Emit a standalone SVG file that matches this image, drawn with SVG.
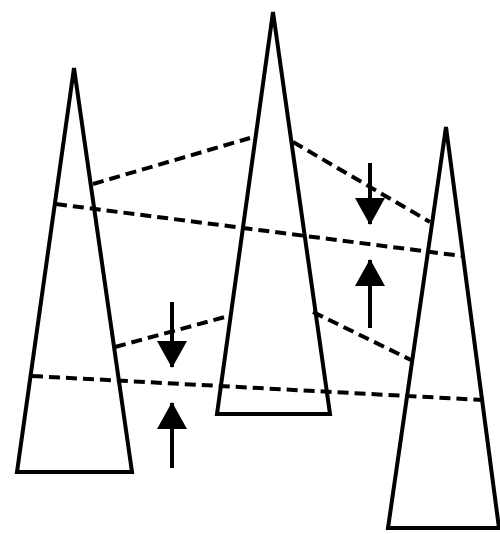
<svg xmlns="http://www.w3.org/2000/svg" width="500" height="534" viewBox="0 0 500 534">
<defs>
<style>
.tri{fill:none;stroke:#000;stroke-width:4;stroke-linejoin:miter}
.dash{fill:none;stroke:#000;stroke-width:4;stroke-dasharray:11 6}
.arr{fill:none;stroke:#000;stroke-width:4}
</style>
<marker id="head" markerUnits="userSpaceOnUse" markerWidth="28" markerHeight="30" refX="26" refY="15" orient="auto" viewBox="0 0 28 30">
<path d="M0,0 L27,15 L0,30 z" fill="#000"/>
</marker>
</defs>
<rect width="500" height="534" fill="#fff"/>
<g id="tower-left"><polygon class="tri" points="74,68 17,472 132,472"/></g>
<g id="tower-middle"><polygon class="tri" points="273,12 217,414 330,414"/></g>
<g id="tower-right"><polygon class="tri" points="446,127 388,528 499,528"/></g>
<g id="connectors">
<line class="dash" x1="93" y1="184" x2="250" y2="138"/>
<line class="dash" x1="56" y1="204" x2="462" y2="256"/>
<line class="dash" x1="293" y1="142" x2="430" y2="222"/>
<line class="dash" x1="115" y1="347" x2="225" y2="317"/>
<line class="dash" x1="32" y1="376" x2="483" y2="400"/>
<line class="dash" x1="313" y1="312" x2="411" y2="360"/>
<line class="arr" x1="370" y1="163" x2="370" y2="224" marker-end="url(#head)"/>
<line class="arr" x1="370" y1="328" x2="370" y2="260" marker-end="url(#head)"/>
<line class="arr" x1="172" y1="302" x2="172" y2="367" marker-end="url(#head)"/>
<line class="arr" x1="172" y1="468" x2="172" y2="403" marker-end="url(#head)"/>
</g>
</svg>
